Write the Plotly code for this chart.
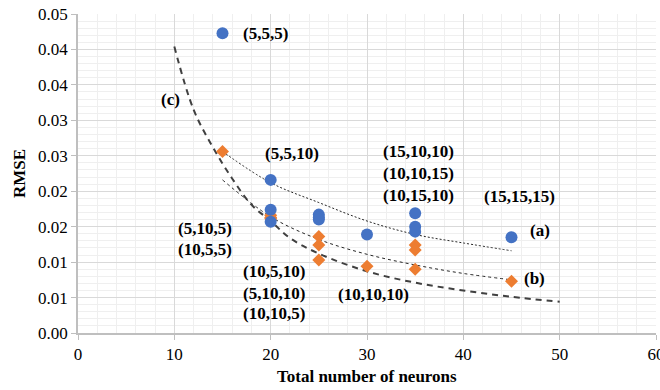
import plotly.graph_objects as go

# Series (a): RMSE for each network configuration
neurons_a = [15, 20, 20, 20, 25, 25, 25, 30, 35, 35, 35, 45]
rmse_a = [0.0423, 0.0216, 0.0174, 0.0157, 0.0167, 0.0163, 0.0160, 0.0139, 0.0169, 0.0150, 0.0143, 0.0135]

# Series (b)
neurons_b = [15, 20, 20, 20, 25, 25, 25, 30, 35, 35, 35, 45]
rmse_b = [0.0256, 0.0166, 0.0163, 0.0161, 0.0136, 0.0124, 0.0103, 0.0094, 0.0124, 0.0117, 0.0090, 0.0073]

# Trend curves
trend_a_x = [15, 20, 25, 30, 35, 40, 45]
trend_a_y = [0.0256, 0.0212, 0.0184, 0.0158, 0.0139, 0.0127, 0.0116]
trend_b_x = [15, 20, 25, 30, 35, 40, 45]
trend_b_y = [0.0216, 0.0164, 0.0132, 0.0111, 0.0096, 0.0084, 0.0075]
curve_c_x = [10, 12, 14, 16, 18, 20, 22, 25, 30, 35, 40, 45, 50]
curve_c_y = [0.0404, 0.0315, 0.0262, 0.0218, 0.0181, 0.0158, 0.0134, 0.0112, 0.0087, 0.0071, 0.0060, 0.0051, 0.0044]

# Axis ticks
x_ticks = [0, 10, 20, 30, 40, 50, 60]
y_tickvals = [0, 0.005, 0.01, 0.015, 0.02, 0.025, 0.03, 0.035, 0.04, 0.045]
y_ticktext = ["0.00", "0.01", "0.01", "0.02", "0.02", "0.03", "0.03", "0.04", "0.04", "0.05"]

# Point / curve labels: (text, x, y)
labels = [
    ("(5,5,5)", 19.42, 0.04225),
    ("(c)", 9.55, 0.0329),
    ("(5,5,10)", 22.25, 0.0253),
    ("(15,10,10)", 35.39, 0.02554),
    ("(10,10,15)", 35.39, 0.02249),
    ("(10,15,10)", 35.39, 0.01943),
    ("(15,15,15)", 45.88, 0.01919),
    ("(a)", 48.0, 0.01449),
    ("(b)", 47.35, 0.00768),
    ("(5,10,5)", 13.17, 0.01473),
    ("(10,5,5)", 13.17, 0.01177),
    ("(10,5,10)", 20.31, 0.00861),
    ("(5,10,10)", 20.31, 0.00556),
    ("(10,10,5)", 20.31, 0.00274),
    ("(10,10,10)", 30.66, 0.00542),
]

FONT = "Liberation Serif, Times New Roman, serif"

fig = go.Figure()

fig.add_trace(go.Scatter(
    x=curve_c_x, y=curve_c_y, mode="lines", line_shape="spline",
    line=dict(color="#404040", width=2, dash="6px,5px"), hoverinfo="skip"))
fig.add_trace(go.Scatter(
    x=trend_a_x, y=trend_a_y, mode="lines", line_shape="spline",
    line=dict(color="#262626", width=1, dash="2px,2px"), hoverinfo="skip"))
fig.add_trace(go.Scatter(
    x=trend_b_x, y=trend_b_y, mode="lines", line_shape="spline",
    line=dict(color="#262626", width=1, dash="3px,3px"), hoverinfo="skip"))
fig.add_trace(go.Scatter(
    x=neurons_b, y=rmse_b, mode="markers",
    marker=dict(symbol="diamond", size=10, color="#ED7D31")))
fig.add_trace(go.Scatter(
    x=neurons_a, y=rmse_a, mode="markers",
    marker=dict(symbol="circle", size=12, color="#4472C4")))

for text, lx, ly in labels:
    fig.add_annotation(x=lx, y=ly, xref="x", yref="y", text=f"<b>{text}</b>",
                       showarrow=False, font=dict(family=FONT, size=17, color="#000000"))

fig.add_annotation(x=0.5, y=-0.1, xref="paper", yref="paper", yanchor="top",
                   text="<b>Total number of neurons</b>", showarrow=False,
                   font=dict(family=FONT, size=17, color="#000000"))

fig.update_layout(
    width=660, height=390,
    margin=dict(l=78, r=4, t=14, b=57, autoexpand=False),
    paper_bgcolor="white", plot_bgcolor="white",
    showlegend=False,
    font=dict(family=FONT, size=17, color="#000000"),
    xaxis=dict(
        range=[0, 60], tickvals=x_ticks, ticks="outside", ticklen=5,
        tickcolor="#bfbfbf", showline=True, linecolor="#bfbfbf", linewidth=1.5,
        showgrid=True, gridcolor="#d9d9d9", gridwidth=1, zeroline=False,
        minor=dict(dtick=2, showgrid=True, gridcolor="#efefef", gridwidth=1),
        tickfont=dict(family=FONT, size=17, color="#000000"),
        ticklabeloverflow="allow", automargin=False,
    ),
    yaxis=dict(
        range=[0, 0.045], tickvals=y_tickvals, ticktext=y_ticktext,
        ticks="outside", ticklen=5, tickcolor="#bfbfbf",
        showline=True, linecolor="#bfbfbf", linewidth=1.5,
        showgrid=True, gridcolor="#d9d9d9", gridwidth=1, zeroline=False,
        minor=dict(dtick=0.001, showgrid=True, gridcolor="#efefef", gridwidth=1),
        tickfont=dict(family=FONT, size=17, color="#000000"),
        ticklabeloverflow="allow", automargin=False,
        title=dict(text="<b>RMSE</b>", font=dict(family=FONT, size=17), standoff=8),
    ),
)

fig.write_html("out.html")
